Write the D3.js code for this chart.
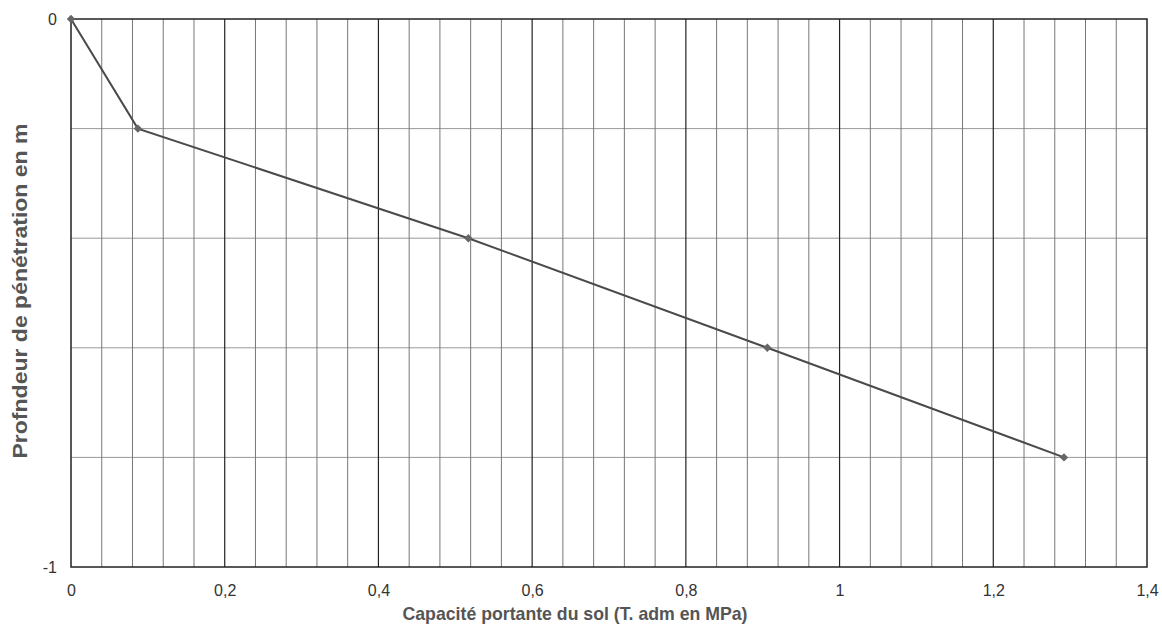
<!DOCTYPE html>
<html><head><meta charset="utf-8">
<script src="https://cdn.jsdelivr.net/npm/d3@7"></script>
<style>body{margin:0;background:#fff}svg{display:block}</style>
</head><body>
<script>
const capacite = [0, 0.087, 0.517, 0.906, 1.292];
const profondeur = [0, -0.2, -0.4, -0.6, -0.8];
const xTicks = [0, 0.2, 0.4, 0.6, 0.8, 1, 1.2, 1.4];
const yTicks = [0, -1];
const xLabel = "Capacité portante du sol (T. adm en MPa)";
const yLabel = "Profndeur de pénétration en m";

const W = 1162, H = 639;
const m = {left: 71, right: 15, top: 19, bottom: 72};
const FONT = "Liberation Sans, Arial, sans-serif";
const svg = d3.select("body").append("svg").attr("width", W).attr("height", H);
const x = d3.scaleLinear().domain([0, 1.4]).range([m.left, W - m.right]);
const y = d3.scaleLinear().domain([0, -1]).range([m.top, H - m.bottom]);

const fmt = d => String(d).replace(".", ",");

// horizontal grid
svg.append("g").selectAll("line").data(d3.range(1, 5).map(i => -i * 0.2)).join("line")
  .attr("x1", x(0)).attr("x2", x(1.4)).attr("y1", d => y(d)).attr("y2", d => y(d))
  .attr("stroke", "#999").attr("stroke-width", 1);
// minor vertical grid
const minor = d3.range(1, 35).map(i => i * 0.04).filter(v => Math.abs(v / 0.2 - Math.round(v / 0.2)) > 1e-6);
svg.append("g").selectAll("line").data(minor).join("line")
  .attr("x1", d => x(d)).attr("x2", d => x(d)).attr("y1", y(0)).attr("y2", y(-1))
  .attr("stroke", "#777").attr("stroke-width", 1);
// major vertical grid
svg.append("g").selectAll("line").data(xTicks.slice(1, -1)).join("line")
  .attr("x1", d => x(d)).attr("x2", d => x(d)).attr("y1", y(0)).attr("y2", y(-1))
  .attr("stroke", "#222").attr("stroke-width", 1.2);
// frame
svg.append("rect").attr("x", x(0)).attr("y", y(0)).attr("width", x(1.4) - x(0)).attr("height", y(-1) - y(0))
  .attr("fill", "none").attr("stroke", "#222").attr("stroke-width", 1.5);

// axes tick labels
const xa = d3.axisBottom(x).tickValues(xTicks).tickFormat(fmt).tickSize(0).tickPadding(18);
const gx = svg.append("g").attr("transform", `translate(0,${y(-1)})`).call(xa);
gx.select(".domain").remove();
gx.selectAll("text").attr("font-family", FONT).attr("font-size", 16).attr("fill", "#333");
const ya = d3.axisLeft(y).tickValues(yTicks).tickFormat(d => d === 0 ? "0" : "-1").tickSize(0).tickPadding(14);
const gy = svg.append("g").attr("transform", `translate(${x(0)},0)`).call(ya);
gy.select(".domain").remove();
gy.selectAll("text").attr("font-family", FONT).attr("font-size", 16).attr("fill", "#333");

// line
const pts = capacite.map((c, i) => [c, profondeur[i]]);
svg.append("path").datum(pts)
  .attr("d", d3.line().x(d => x(d[0])).y(d => y(d[1])))
  .attr("fill", "none").attr("stroke", "#4a4a4a").attr("stroke-width", 2);
svg.append("g").selectAll("path").data(pts).join("path")
  .attr("transform", d => `translate(${x(d[0])},${y(d[1])})`)
  .attr("d", d3.symbol(d3.symbolDiamond2, 45)())
  .attr("fill", "#666");

// labels
svg.append("text").attr("x", 575).attr("y", 620).attr("text-anchor", "middle")
  .attr("font-family", FONT).attr("font-weight", "bold").attr("font-size", 19)
  .attr("textLength", 345).attr("lengthAdjust", "spacingAndGlyphs")
  .attr("fill", "#555").text(xLabel);
svg.append("text").attr("transform", `translate(27,291) rotate(-90)`).attr("text-anchor", "middle")
  .attr("font-family", FONT).attr("font-weight", "bold").attr("font-size", 20)
  .attr("textLength", 335).attr("lengthAdjust", "spacingAndGlyphs")
  .attr("fill", "#555").text(yLabel);
</script>
</body></html>
